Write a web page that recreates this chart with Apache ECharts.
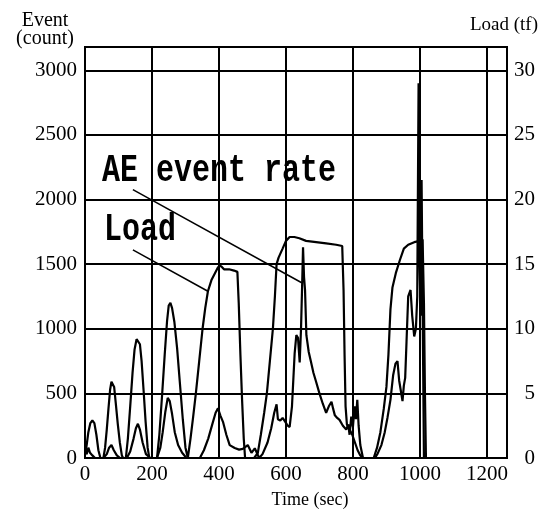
<!DOCTYPE html>
<html>
<head>
<meta charset="utf-8">
<title>AE event rate and load</title>
<script src="https://cdn.jsdelivr.net/npm/echarts@6/dist/echarts.min.js"></script>
<style>
  html, body { margin: 0; padding: 0; background: #fff; }
  #main { width: 547px; height: 515px; }
</style>
</head>
<body>
<div id="main"></div>
<script>
// load curve (tf), right axis
var loadTime = [0, 5, 10, 16, 22, 28, 34, 40, 46,
  55, 60, 65, 70, 75, 79, 83, 87, 92, 98, 104, 110, 114,
  122, 128, 135, 142, 148, 154, 159, 164, 169, 175, 181, 187, 192,
  215, 222, 230, 238, 245, 250, 255, 260, 267, 275, 283, 292, 300,
  307, 315, 323, 331, 341, 351, 359, 367, 378, 388, 396, 402, 408, 415, 430, 445, 455, 459, 464, 469, 474, 478,
  505, 516, 525, 535, 543, 552, 561, 567, 572, 578, 590, 600, 611, 625, 640, 660, 690, 720, 750, 768,
  772, 775, 778, 782, 790, 798, 806, 814, 822, 830,
  862, 872, 882, 892, 900, 906, 912, 918, 928, 940, 952, 965, 983, 1000, 1008, 1012, 1015, 1018];
var loadTf = [0.2, 1.0, 2.0, 2.7, 2.9, 2.7, 1.8, 0.6, 0,
  0, 0.8, 2.2, 3.8, 5.3, 5.9, 6.0, 5.5, 4.2, 2.6, 1.2, 0.2, 0,
  0, 1.5, 4.0, 6.6, 8.4, 9.2, 9.3, 8.8, 7.5, 5.2, 2.8, 0.8, 0,
  0, 1.8, 4.8, 8.0, 10.6, 11.8, 12.0, 11.6, 10.5, 8.5, 5.9, 3.0, 0.8,
  0, 1.5, 3.2, 5.0, 7.5, 10.0, 11.6, 12.9, 13.8, 14.3, 14.7, 14.9, 14.8, 14.6, 14.6, 14.5, 14.4, 12.0, 8.0, 4.5, 1.5, 0,
  0, 0.4, 1.8, 3.5, 5.0, 7.5, 10.0, 12.5, 15.0, 15.5, 16.2, 16.8, 17.1, 17.1, 17.0, 16.8, 16.7, 16.6, 16.5, 16.4,
  13.0, 8.0, 4.0, 2.6, 2.2, 1.8, 1.2, 0.6, 0.2, 0,
  0, 0.8, 2.0, 3.8, 5.5, 8.0, 11.5, 13.2, 14.3, 15.3, 16.2, 16.5, 16.7, 16.8, 16.9, 12.0, 5.0, 0];

// AE event rate (count), left axis
var aeTime = [0, 5, 10, 15, 22, 30, 55, 65, 72, 79, 86, 95, 105,
  125, 135, 145, 152, 158, 164, 172, 182, 195,
  215, 225, 232, 240, 247, 253, 260, 268, 278, 290, 303,
  343, 355, 368, 380, 390, 397, 404, 412, 422, 432, 447, 460, 471, 486, 497, 507,
  520, 530, 545, 556, 565, 572, 576, 583, 590, 598, 605, 611, 618, 626, 631, 636, 641, 645, 648, 651, 654, 657, 661,
  668, 675, 682, 690, 700, 710, 720, 728, 736, 741, 746, 753, 760, 770, 780, 786, 790, 795, 800, 805, 809, 813, 817, 822, 830,
  865, 873, 885, 895, 903, 912, 920, 927, 933, 938, 943, 948, 952, 956, 960, 965, 972, 977, 983, 988, 992, 996, 999, 1002, 1005, 1008, 1012];
var aeCount = [60, 30, 80, 40, 20, 0, 0, 30, 80, 100, 60, 20, 0,
  0, 50, 150, 230, 265, 220, 120, 30, 0,
  0, 80, 200, 360, 465, 440, 340, 200, 100, 40, 0,
  0, 60, 150, 260, 350, 385, 330, 280, 180, 100, 77, 65, 70, 100, 40, 75,
  0, 30, 120, 230, 350, 415, 300, 290, 310, 280, 250, 240, 400, 810, 950, 930, 740, 1000, 1300, 1630, 1400, 1300, 950,
  820, 740, 660, 590, 500, 420, 350, 400, 435, 380, 330, 310, 295, 250, 220, 260, 180, 320, 240, 400, 300, 450, 250, 100, 0,
  0, 30, 100, 200, 310, 450, 640, 730, 750, 600, 520, 440, 560, 620, 900, 1250, 1300, 1100, 940, 1000, 1250, 2900, 1500, 1100, 2150, 1200, 0];

var xMax = 1260;
var countMax = 3180;
var tfMax = 31.8;

function pairs(xs, ys) {
  var out = [];
  for (var i = 0; i < xs.length; i++) out.push([xs[i], ys[i]]);
  return out;
}

function plain(v) { return String(v); }

var serif = '"Liberation Serif", "DejaVu Serif", serif';
var mono = '"Liberation Mono", "DejaVu Sans Mono", monospace';

var chart = echarts.init(document.getElementById('main'));

var option = {
  animation: false,
  backgroundColor: '#fff',
  grid: {
    left: 85, right: 40, top: 47, bottom: 57,
    show: true, borderColor: '#000', borderWidth: 2
  },
  xAxis: {
    type: 'value',
    min: 0, max: xMax, interval: 200,
    name: 'Time (sec)',
    nameLocation: 'middle',
    nameGap: 33,
    nameTextStyle: { color: '#000', fontFamily: serif, fontSize: 18, padding: [0, 0, 0, 28] },
    axisLine: { lineStyle: { color: '#000', width: 2 } },
    axisTick: { show: false },
    axisLabel: { color: '#000', fontFamily: serif, fontSize: 21, margin: 6, showMaxLabel: false, formatter: plain },
    splitLine: { show: true, lineStyle: { color: '#000', width: 2 } }
  },
  yAxis: [
    {
      type: 'value',
      min: 0, max: countMax, interval: 500,
      name: 'Event\n(count)',
      nameLocation: 'end',
      nameGap: -1,
      nameTextStyle: { color: '#000', fontFamily: serif, fontSize: 20, lineHeight: 18, align: 'center', padding: [0, 80, 0, 0] },
      axisLine: { show: true, lineStyle: { color: '#000', width: 2 } },
      axisTick: { show: false },
      axisLabel: { color: '#000', fontFamily: serif, fontSize: 21, margin: 8, showMaxLabel: false, formatter: plain },
      splitLine: { show: true, lineStyle: { color: '#000', width: 2 } }
    },
    {
      type: 'value',
      min: 0, max: tfMax, interval: 5,
      position: 'right',
      name: 'Load (tf)',
      nameLocation: 'end',
      nameGap: 12,
      nameTextStyle: { color: '#000', fontFamily: serif, fontSize: 19, align: 'center', padding: [0, 6, 0, 0] },
      axisLine: { show: true, lineStyle: { color: '#000', width: 2 } },
      axisTick: { show: false },
      axisLabel: { color: '#000', fontFamily: serif, fontSize: 21, margin: 28, align: 'right', showMaxLabel: false, formatter: plain },
      splitLine: { show: false }
    }
  ],
  graphic: [
    {
      type: 'text', x: 102, y: 171, scaleY: 1.3,
      style: { text: 'AE event rate', fill: '#000', font: 'bold 30px ' + mono, textAlign: 'left', textVerticalAlign: 'middle' }
    },
    {
      type: 'text', x: 104, y: 230, scaleY: 1.3,
      style: { text: 'Load', fill: '#000', font: 'bold 30px ' + mono, textAlign: 'left', textVerticalAlign: 'middle' }
    }
  ],
  series: [
    {
      name: 'Load',
      type: 'line',
      yAxisIndex: 1,
      data: pairs(loadTime, loadTf),
      showSymbol: false,
      lineStyle: { color: '#000', width: 2.2 },
      markLine: {
        silent: true, symbol: 'none', label: { show: false },
        lineStyle: { color: '#000', width: 1.5, type: 'solid' },
        data: [[{ coord: [143, 16.1] }, { coord: [367, 12.9] }]]
      }
    },
    {
      name: 'AE event rate',
      type: 'line',
      yAxisIndex: 0,
      data: pairs(aeTime, aeCount),
      showSymbol: false,
      lineStyle: { color: '#000', width: 2.2 },
      markLine: {
        silent: true, symbol: 'none', label: { show: false },
        lineStyle: { color: '#000', width: 1.5, type: 'solid' },
        data: [[{ coord: [143, 2077] }, { coord: [647, 1356] }]]
      }
    }
  ]
};

chart.setOption(option);
</script>
</body>
</html>
